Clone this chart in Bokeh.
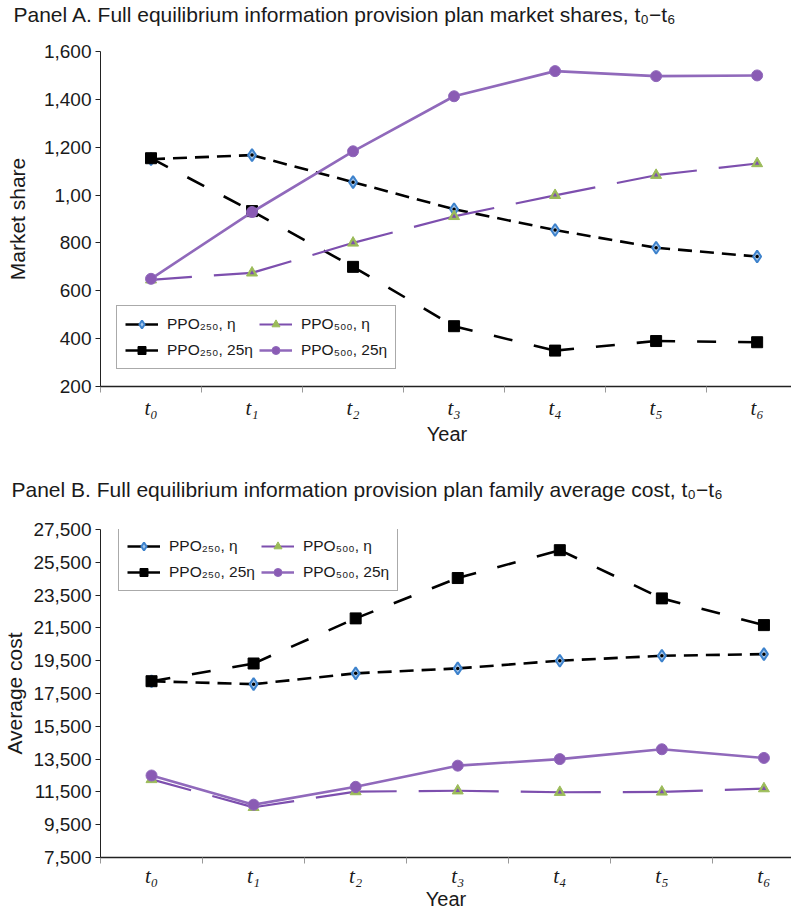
from bokeh.plotting import figure
from bokeh.models import (ColumnDataSource, FixedTicker, Range1d, Legend, LegendItem, Title)
from bokeh.layouts import column
from bokeh.embed import file_html
from bokeh.resources import INLINE

# ---------------- data ----------------
periods = ["t₀", "t₁", "t₂", "t₃", "t₄", "t₅", "t₆"]

share_ppo250_eta = [1150, 1167, 1054, 941, 854, 780, 743]
share_ppo250_25eta = [1154, 933, 700, 452, 350, 390, 385]
share_ppo500_eta = [646, 675, 800, 911, 999, 1083, 1132]
share_ppo500_25eta = [650, 929, 1183, 1413, 1518, 1497, 1500]

cost_ppo250_eta = [18250, 18070, 18730, 19030, 19500, 19800, 19900]
cost_ppo250_25eta = [18250, 19330, 22080, 24540, 26240, 23300, 21670]
cost_ppo500_eta = [12260, 10560, 11520, 11570, 11480, 11500, 11700]
cost_ppo500_25eta = [12500, 10720, 11810, 13100, 13500, 14100, 13570]

share_ticks = [200, 400, 600, 800, 1000, 1200, 1400, 1600]
share_tick_labels = ["200", "400", "600", "800", "1,00", "1,200", "1,400", "1,600"]
cost_ticks = [7500, 9500, 11500, 13500, 15500, 17500, 19500, 21500, 23500, 25500, 27500]
cost_tick_labels = ["7,500", "9,500", "11,500", "13,500", "15,500", "17,500",
                    "19,500", "21,500", "23,500", "25,500", "27,500"]

series_labels = ["PPO₂₅₀, η", "PPO₂₅₀, 25η", "PPO₅₀₀, η", "PPO₅₀₀, 25η"]

# ---------------- styles ----------------
BLUE = "#3d82cc"
BLUE_FILL = "#a8c9ec"
GREEN = "#9bbb59"
PURPLE_DARK = "#7d4fae"
PURPLE = "#9069bb"
PURPLE_FILL = "#8a5bb4"
SANS = "Liberation Sans"


def segs(vals):
    xs = [[i + 0.5, i + 1.5] for i in range(len(vals) - 1)]
    ys = [[vals[i], vals[i + 1]] for i in range(len(vals) - 1)]
    return xs, ys


def make_panel(title, ylabel, series, yticks, ylabels, frame_h, frame_left, frame_w,
               x_end, legend_loc, ylab_standoff, xlab_standoff, major_standoff,
               title_standoff, spacer):
    p = figure(frame_width=frame_w, frame_height=frame_h, output_backend="svg",
               toolbar_location=None,
               x_range=Range1d(0, x_end), y_range=Range1d(yticks[0], yticks[-1]),
               min_border_top=0, min_border_left=frame_left,
               min_border_right=0, min_border_bottom=0)
    p.title.text = title
    p.title.text_font = SANS
    p.title.text_font_size = "21px"
    p.title.text_font_style = "normal"
    p.title.text_color = "#1a1a1a"
    p.title.align = "left"
    p.title.offset = -frame_left
    p.title.standoff = title_standoff
    if spacer is not None:
        p.add_layout(Title(text=" ", text_font_size="2px", standoff=spacer), "above")
    p.outline_line_color = None
    p.xgrid.visible = False
    p.ygrid.visible = False

    # y axis
    ya = p.yaxis[0]
    ya.ticker = FixedTicker(ticks=yticks)
    ya.major_label_overrides = {t: l for t, l in zip(yticks, ylabels)}
    ya.major_label_text_font = SANS
    ya.major_label_text_font_size = "19px"
    ya.major_label_text_color = "#1a1a1a"
    ya.major_tick_out = 5
    ya.major_tick_in = 0
    ya.minor_tick_out = 0
    ya.minor_tick_in = 0
    ya.major_label_standoff = 4
    ya.axis_line_color = "#222222"
    ya.major_tick_line_color = "#222222"
    ya.axis_label = ylabel
    ya.axis_label_text_font = SANS
    ya.axis_label_text_font_size = "21px"
    ya.axis_label_text_font_style = "normal"
    ya.axis_label_text_color = "#1a1a1a"
    ya.axis_label_standoff = ylab_standoff

    # x axis: labels at centres, ticks at boundaries
    xa = p.xaxis[0]
    centres = [i + 0.5 for i in range(len(periods))]
    xa.ticker = FixedTicker(ticks=centres, minor_ticks=list(range(len(periods) + 1)))
    xa.major_label_overrides = {c: l for c, l in zip(centres, periods)}
    xa.major_label_text_font = "Liberation Serif"
    xa.major_label_text_font_style = "italic"
    xa.major_label_text_font_size = "21px"
    xa.major_label_text_color = "#1a1a1a"
    xa.major_tick_out = 0
    xa.major_tick_in = 0
    xa.minor_tick_out = 6
    xa.minor_tick_in = 0
    xa.major_label_standoff = major_standoff
    xa.axis_line_color = "#222222"
    xa.axis_line_width = 1.5
    xa.minor_tick_line_color = "#999999"
    xa.axis_label = "Year"
    xa.axis_label_text_font = SANS
    xa.axis_label_text_font_size = "20px"
    xa.axis_label_text_font_style = "normal"
    xa.axis_label_text_color = "#1a1a1a"
    xa.axis_label_standoff = xlab_standoff

    v250e, v250x, v500e, v500x = series
    x = centres

    # PPO250, eta : short black dash, blue diamond
    xs, ys = segs(v250e)
    p.multi_line(xs, ys, line_color="black", line_width=2.6, line_dash="14 8")
    p.scatter(x, v250e, marker="diamond", size=12, fill_color=BLUE_FILL,
              line_color=BLUE, line_width=2)
    p.scatter(x, v250e, marker="circle", size=3.5, fill_color="black", line_color=None)

    # PPO250, 25eta : long black dash, black square
    xs, ys = segs(v250x)
    p.multi_line(xs, ys, line_color="black", line_width=2.6, line_dash="19 22")
    p.scatter(x, v250x, marker="square", size=11, fill_color="black", line_color="black")

    # PPO500, eta : long purple dash, green triangle
    xs, ys = segs(v500e)
    p.multi_line(xs, ys, line_color=PURPLE_DARK, line_width=2.2, line_dash="41 22")
    p.scatter(x, v500e, marker="triangle", size=11, fill_color=GREEN, line_color=GREEN)
    p.scatter(x, v500e, marker="triangle", size=4.5, fill_color=PURPLE_DARK, line_color=None)

    # PPO500, 25eta : solid purple, purple circle
    p.line(x, v500x, line_color=PURPLE, line_width=2.6)
    p.scatter(x, v500x, marker="circle", size=11, fill_color=PURPLE_FILL,
              line_color=PURPLE, line_width=1)

    # legend proxies (solid short lines with markers), placed outside the x range
    off = dict(x=[-5.0, -4.0], y=[yticks[0], yticks[0]])
    l1 = p.line("x", "y", source=ColumnDataSource(off), line_color="black", line_width=2.6)
    m1 = p.scatter("x", "y", source=ColumnDataSource(off), marker="diamond",
                   fill_color=BLUE_FILL, line_color=BLUE, line_width=2)
    l2 = p.line("x", "y", source=ColumnDataSource(off), line_color="black", line_width=2.6)
    m2 = p.scatter("x", "y", source=ColumnDataSource(off), marker="square",
                   fill_color="black", line_color="black")
    l3 = p.line("x", "y", source=ColumnDataSource(off), line_color=PURPLE_DARK, line_width=2.2)
    m3 = p.scatter("x", "y", source=ColumnDataSource(off), marker="triangle",
                   fill_color=GREEN, line_color=GREEN)
    l4 = p.line("x", "y", source=ColumnDataSource(off), line_color=PURPLE, line_width=2.6)
    m4 = p.scatter("x", "y", source=ColumnDataSource(off), marker="circle",
                   fill_color=PURPLE_FILL, line_color=PURPLE)

    legend = Legend(items=[
        LegendItem(label=series_labels[0], renderers=[l1, m1]),
        LegendItem(label=series_labels[1], renderers=[l2, m2]),
        LegendItem(label=series_labels[2], renderers=[l3, m3]),
        LegendItem(label=series_labels[3], renderers=[l4, m4]),
    ], location=legend_loc, orientation="vertical", ncols=2,
        label_text_font=SANS, label_text_font_size="15.5px", label_text_color="#1a1a1a",
        glyph_width=33, glyph_height=20, spacing=6, label_standoff=9,
        padding=8, margin=0, border_line_color="#555555", border_line_width=1,
        background_fill_color="white", background_fill_alpha=1.0)
    p.add_layout(legend, "center")
    return p


p1 = make_panel("Panel A. Full equilibrium information provision plan market shares, t₀−t₆",
                "Market share",
                (share_ppo250_eta, share_ppo250_25eta, share_ppo500_eta, share_ppo500_25eta),
                share_ticks, share_tick_labels, frame_h=335, frame_left=87, frame_w=693,
                x_end=6.86, legend_loc=(18, 17), ylab_standoff=12, xlab_standoff=0,
                major_standoff=3, title_standoff=0, spacer=22)

p2 = make_panel("Panel B. Full equilibrium information provision plan family average cost, t₀−t₆",
                "Average cost",
                (cost_ppo250_eta, cost_ppo250_25eta, cost_ppo500_eta, cost_ppo500_25eta),
                cost_ticks, cost_tick_labels, frame_h=328, frame_left=89, frame_w=691,
                x_end=6.77, legend_loc=(18, 266), ylab_standoff=4, xlab_standoff=-3,
                major_standoff=0, title_standoff=57, spacer=None)

layout = column(p1, p2, spacing=0)
open("out.html", "w").write(file_html(layout, INLINE))
